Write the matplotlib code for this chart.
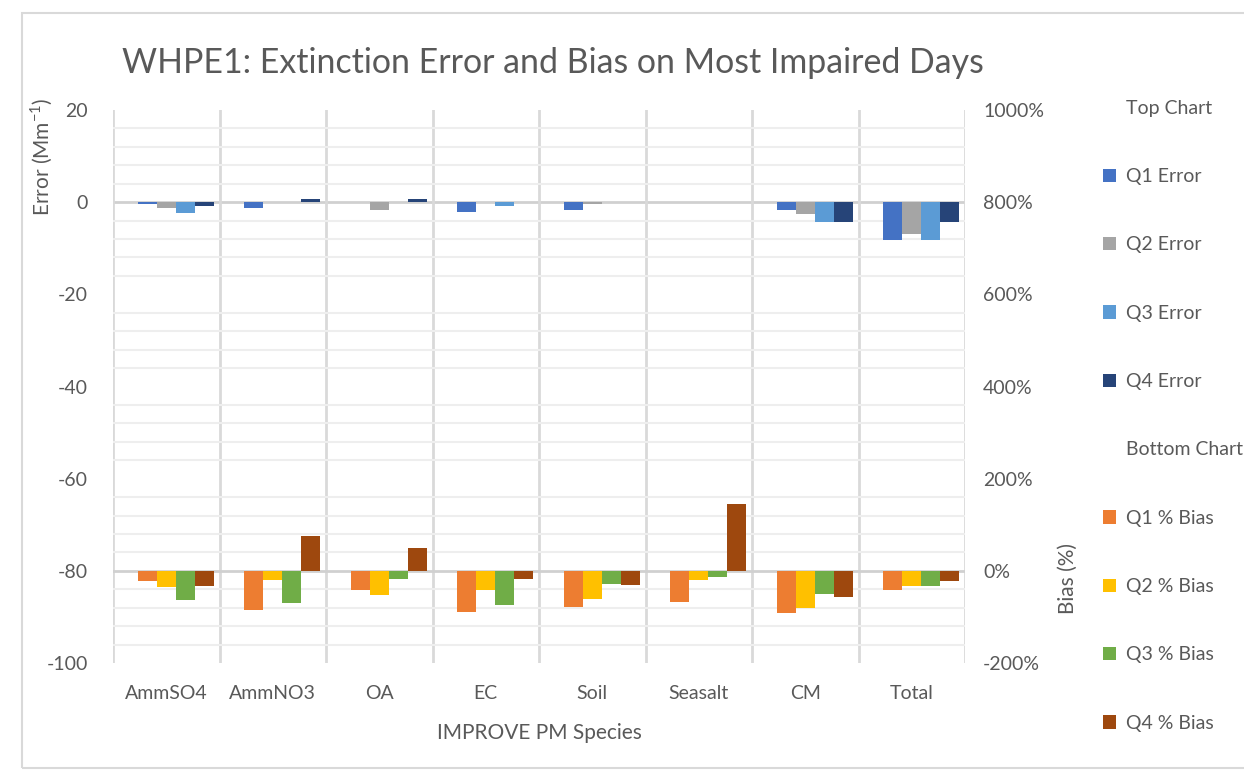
import matplotlib
matplotlib.use('Agg')
import matplotlib.pyplot as plt
import matplotlib.patches as mpatches
import numpy as np

categories = ['AmmSO4', 'AmmNO3', 'OA', 'EC', 'Soil', 'Seasalt', 'CM', 'Total']

# top chart: extinction error (Mm-1), left axis
q1_err = [-0.3, -1.2, 0.0, -2.1, -1.7, 0.0, -1.7, -8.2]
q2_err = [-1.2, 0.0, -1.8, 0.0, -0.3, 0.0, -2.5, -6.8]
q3_err = [-2.3, 0.0, 0.0, -0.8, 0.0, 0.0, -4.2, -8.2]
q4_err = [-0.9, 0.7, 0.7, 0.0, 0.0, 0.0, -4.4, -4.4]

# bottom chart: % bias, right axis
q1_bias = [-22, -86, -42, -89, -78, -67, -92, -42]
q2_bias = [-36, -20, -53, -42, -61, -20, -80, -33]
q3_bias = [-64, -70, -17, -75, -28, -14, -51, -33]
q4_bias = [-33, 76, 50, -17, -31, 145, -56, -22]

err_labels = ['Q1 Error', 'Q2 Error', 'Q3 Error', 'Q4 Error']
bias_labels = ['Q1 % Bias', 'Q2 % Bias', 'Q3 % Bias', 'Q4 % Bias']
err_colors = ['#4472C4', '#A5A5A5', '#5B9BD5', '#264478']
bias_colors = ['#ED7D31', '#FFC000', '#70AD47', '#9E480E']

plt.rcParams['font.family'] = ['Lato', 'DejaVu Sans']
plt.rcParams['axes.unicode_minus'] = False
txt = '#595959'

fig = plt.figure(figsize=(12.44, 7.75), dpi=100)
ax = fig.add_axes([113/1244, 1-663/775, (965-113)/1244, (663-110)/775])
ax2 = ax.twinx()

x = np.arange(len(categories))
w = 0.178
# slot 0 of each group is the empty header series ("Top Chart" / "Bottom Chart")
handles = []
h = ax.bar(x - 2*w, np.zeros(len(x)), w, color='none', label='Top Chart')
handles.append(h)
for k, (vals, col, lab) in enumerate(zip([q1_err, q2_err, q3_err, q4_err], err_colors, err_labels)):
    h = ax.bar(x + (k - 1)*w, vals, w, color=col, label=lab, zorder=3)
    handles.append(h)
h = ax2.bar(x - 2*w, np.zeros(len(x)), w, color='none', label='Bottom Chart')
handles.append(h)
for k, (vals, col, lab) in enumerate(zip([q1_bias, q2_bias, q3_bias, q4_bias], bias_colors, bias_labels)):
    h = ax2.bar(x + (k - 1)*w, vals, w, color=col, label=lab, zorder=3)
    handles.append(h)

ax.set_xlim(-0.5, len(categories) - 0.5)
ax.set_ylim(-100, 20)
ax2.set_ylim(-200, 1000)
ax.set_yticks(np.arange(-100, 21, 20))
ax.set_yticks(np.arange(-100, 21, 4), minor=True)
ax2.set_yticks(np.arange(-200, 1001, 200))
ax2.set_yticklabels([f'{v}%' for v in range(-200, 1001, 200)])

ax.set_xticks(x)
ax.set_xticklabels(categories)
ax.set_xticks(np.arange(-0.5, len(categories)), minor=True)

ax.grid(True, axis='y', which='minor', color='#EEEEEE', lw=1.5, zorder=0)
ax.grid(True, axis='x', which='minor', color='#D9D9D9', lw=2, zorder=0)
ax.axhline(0, color='#D0D0D0', lw=2, zorder=1)
ax2.axhline(0, color='#D0D0D0', lw=2, zorder=1)

for a in (ax, ax2):
    for s in a.spines.values():
        s.set_visible(False)
    a.tick_params(which='both', length=0, labelsize=14, colors=txt)
ax.tick_params(axis='y', pad=18)
ax2.tick_params(axis='y', pad=13)
for lbl in ax2.get_yticklabels():
    lbl.set_horizontalalignment('left')
ax.tick_params(axis='x', pad=16)

fig.text(539/1244, 1-733/775, 'IMPROVE PM Species', ha='center', va='center', fontsize=15, color=txt)
fig.text(42/1244, 1-157/775, 'Error (Mm$^{\\mathregular{-1}}$)', rotation=90, ha='center', va='center',
         fontsize=15, color=txt)
fig.text(1068/1244, 1-578/775, 'Bias (%)', rotation=90, ha='center', va='center', fontsize=15, color=txt)
fig.text(122/1244, 1-63/775, 'WHPE1: Extinction Error and Bias on Most Impaired Days',
         ha='left', va='center', fontsize=24.4, color=txt)

fig.legend(handles=handles, loc='upper left', bbox_to_anchor=(1095/1244, 1-92/775),
           frameon=False, fontsize=14, labelcolor=txt, labelspacing=2.64,
           handlelength=0.7, handleheight=0.7, handletextpad=0.5, borderaxespad=0)

fig.patches.append(mpatches.Rectangle((22/1244, 1-768/775), 1.2, (768-13)/775,
                                      transform=fig.transFigure, fill=False,
                                      edgecolor='#D9D9D9', lw=1.5))

fig.savefig('out.png', dpi=100)
